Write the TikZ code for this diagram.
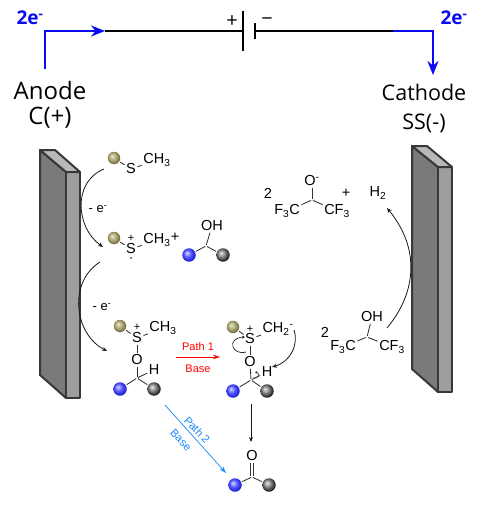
\documentclass[tikz,border=0pt]{standalone}
\usepackage{fontspec}
\setmainfont{Liberation Sans}
\newfontfamily\labelfont{Open Sans}
\usetikzlibrary{arrows.meta, positioning, calc}
\definecolor{wireblue}{RGB}{10,10,245}
\definecolor{pathblue}{RGB}{20,135,250}
\definecolor{tanlight}{RGB}{235,232,205}
\definecolor{tanmid}{RGB}{175,170,120}
\definecolor{tandark}{RGB}{120,115,75}
\definecolor{bluelight}{RGB}{215,215,255}
\definecolor{bluemid}{RGB}{85,85,255}
\definecolor{bluedark}{RGB}{35,35,215}
\definecolor{graylight}{RGB}{235,235,235}
\definecolor{graymid}{RGB}{125,125,125}
\definecolor{graydark}{RGB}{40,40,40}
\pgfdeclareradialshading{tanglobe}{\pgfpoint{-8bp}{8bp}}{color(0bp)=(tanlight); color(14bp)=(tanmid); color(25bp)=(tandark); color(50bp)=(tandark)}
\pgfdeclareradialshading{blueglobe}{\pgfpoint{-8bp}{8bp}}{color(0bp)=(bluelight); color(14bp)=(bluemid); color(25bp)=(bluedark); color(50bp)=(bluedark)}
\pgfdeclareradialshading{grayglobe}{\pgfpoint{-8bp}{8bp}}{color(0bp)=(graylight); color(14bp)=(graymid); color(25bp)=(graydark); color(50bp)=(graydark)}
\tikzset{
    atom/.style={inner sep=0.5pt, font=\fontsize{14.5}{15}\selectfont},
    tiny/.style={inner sep=0pt, font=\fontsize{11}{11}\selectfont},
    radical/.style={circle, fill=black, inner sep=0pt, minimum size=1.8pt},
    tanball/.style={circle, shading=tanglobe, minimum size=12.5pt, inner sep=0pt},
    blueball/.style={circle, shading=blueglobe, minimum size=13.5pt, inner sep=0pt},
    grayball/.style={circle, shading=grayglobe, minimum size=13.5pt, inner sep=0pt},
    bond/.style={draw=black!80, line width=0.85pt, shorten <=1pt, shorten >=1pt},
    react/.style={draw=black!90, line width=0.8pt, -{Stealth[length=5pt, width=4pt]}},
    wire/.style={line width=2.7pt},
    electrode/.style={draw=black!78, line width=2pt, line join=round},
    biglabel/.style={inner sep=0pt, font=\labelfont\fontsize{21.5}{22}\selectfont},
    elabel/.style={inner sep=0pt, text=wireblue, font=\labelfont\bfseries\fontsize{19}{20}\selectfont},
    signlabel/.style={inner sep=0pt, font=\labelfont\fontsize{20}{20}\selectfont},
    pathlabel/.style={inner sep=0pt, font=\fontsize{11}{11}\selectfont}
}
\begin{document}
\begin{tikzpicture}[x=1pt, y=-1pt]
    \useasboundingbox (0,0) rectangle (480,506);
    % circuit
    \coordinate (anodeEnd) at (45,69);
    \coordinate (anodeCorner) at (45,31);
    \coordinate (wireLeft) at (105,31);
    \coordinate (plusPlate) at (243,31);
    \coordinate (minusPlate) at (255,31);
    \coordinate (wireRight) at (393,31);
    \coordinate (cathodeCorner) at (433,31);
    \coordinate (cathodeEnd) at (433,75);
    \draw[wire, black] (wireLeft) -- (plusPlate);
    \draw[wire, black] (minusPlate) -- (wireRight);
    \draw[wire, black] ($(plusPlate)+(0,-20)$) -- ($(plusPlate)+(0,20)$);
    \draw[wire, black] ($(minusPlate)+(0,-8)$) -- ($(minusPlate)+(0,8)$);
    \draw[wire, wireblue, line join=miter, -{Stealth[length=14pt, width=11pt]}] (anodeEnd) -- (anodeCorner) -- (wireLeft);
    \draw[wire, wireblue, line join=miter, -{Stealth[length=14pt, width=11pt]}] (wireRight) -- (cathodeCorner) -- (cathodeEnd);
    \node[signlabel] (plusSign) at (232,22) {+};
    \node[signlabel] (minusSign) at (267,22) {\textminus};
    \node[elabel] (eLeft) at (30,18) {2e\textsuperscript{-}};
    \node[elabel] (eRight) at (454,18) {2e\textsuperscript{-}};
    \node[biglabel, font=\labelfont\fontsize{24}{25}\selectfont] (anode) at (50,90) {Anode};
    \node[biglabel, font=\labelfont\fontsize{24}{25}\selectfont] (anodeSign) at (50,118) {C(+)};
    \node[biglabel] (cathode) at (424,92) {Cathode};
    \node[biglabel] (cathodeSign) at (424,123) {SS(-)};
    % electrodes
    \draw[electrode, fill=black!52] (40,150) -- (66,172) -- (66,398) -- (40,375) -- cycle;
    \draw[electrode, fill=black!38] (66,172) -- (80,172) -- (80,398) -- (66,398) -- cycle;
    \draw[electrode, fill=black!28] (40,150) -- (55,150) -- (80,172) -- (66,172) -- cycle;
    \draw[electrode, fill=black!52] (412,146) -- (438,167) -- (438,392) -- (412,369) -- cycle;
    \draw[electrode, fill=black!38] (438,167) -- (452,167) -- (452,392) -- (438,392) -- cycle;
    \draw[electrode, fill=black!28] (412,146) -- (427,146) -- (452,167) -- (438,167) -- cycle;
    % thioether
    \node[tanball] (tanA) at (114,158) {};
    \node[atom] (sulfurA) at (131,169) {S};
    \node[atom] (methylA) at (157,160) {CH\textsubscript{3}};
    \draw[bond] (tanA) -- (sulfurA);
    \draw[bond] (sulfurA) -- (methylA);
    % radical cation and alcohol
    \node[tanball] (tanB) at (114,238) {};
    \node[atom] (sulfurB) at (131,249) {S};
    \node[tiny] (chargeB) at (131,238) {+};
    \node[radical] (radicalB) at (131,258) {};
    \node[atom] (methylB) at (157,240) {CH\textsubscript{3}};
    \node[atom] (plusB) at (175,237) {+};
    \draw[bond] (tanB) -- (sulfurB);
    \draw[bond] (sulfurB) -- (methylB);
    \node[atom] (hydroxyl) at (212,226) {OH};
    \coordinate (carbonB) at (206,246);
    \node[blueball] (blueB) at (189,255) {};
    \node[grayball] (grayB) at (223,255) {};
    \draw[bond] (hydroxyl) -- (carbonB);
    \draw[bond] (blueB) -- (carbonB);
    \draw[bond] (grayB) -- (carbonB);
    % alkoxysulfonium
    \node[tanball] (tanC) at (120,326) {};
    \node[atom] (sulfurC) at (137,338) {S};
    \node[tiny] (chargeC) at (137,327) {+};
    \node[atom] (methylC) at (163,328) {CH\textsubscript{3}};
    \node[atom] (oxygenC) at (137,360) {O};
    \coordinate (carbonC) at (137,378);
    \node[atom] (hydrogenC) at (154,370) {H};
    \node[blueball] (blueC) at (120,389) {};
    \node[grayball] (grayC) at (154,389) {};
    \draw[bond] (tanC) -- (sulfurC);
    \draw[bond] (sulfurC) -- (methylC);
    \draw[bond] (sulfurC) -- (oxygenC);
    \draw[bond] (oxygenC) -- (carbonC);
    \draw[bond] (hydrogenC) -- (carbonC);
    \draw[bond] (blueC) -- (carbonC);
    \draw[bond] (grayC) -- (carbonC);
    % ylide
    \node[tanball] (tanD) at (233,327) {};
    \node[atom] (sulfurD) at (250,339) {S};
    \node[tiny] (chargeD) at (250,329) {+};
    \node[atom] (methyleneD) at (278,329) {CH\textsubscript{2}\textsuperscript{-}};
    \node[atom] (oxygenD) at (250,362) {O};
    \coordinate (carbonD) at (251,380);
    \node[atom] (hydrogenD) at (267,372) {H};
    \node[blueball] (blueD) at (233,391) {};
    \node[grayball] (grayD) at (267,391) {};
    \draw[bond] (tanD) -- (sulfurD);
    \draw[bond] (sulfurD) -- (methyleneD);
    \draw[bond] (sulfurD) -- (oxygenD);
    \draw[bond] (oxygenD) -- (carbonD);
    \draw[bond] (hydrogenD) -- (carbonD);
    \draw[bond] (blueD) -- (carbonD);
    \draw[bond] (grayD) -- (carbonD);
    % ketone
    \node[atom] (oxygenE) at (252,456) {O};
    \coordinate (carbonE) at (252,477);
    \node[blueball] (blueE) at (235,485) {};
    \node[grayball] (grayE) at (269,485) {};
    \draw[bond] ($(oxygenE.south)+(-1.5,0)$) -- ($(carbonE)+(-1.5,0)$);
    \draw[bond] ($(oxygenE.south)+(1.5,0)$) -- ($(carbonE)+(1.5,0)$);
    \draw[bond] (blueE) -- (carbonE);
    \draw[bond] (grayE) -- (carbonE);
    % fluorinated alkoxide
    \node[atom] (countAlkoxide) at (268,193) {2};
    \node[atom] (oxide) at (312,181) {O\textsuperscript{-}};
    \coordinate (carbonF) at (312,200);
    \node[atom] (leftF) at (287,211) {F\textsubscript{3}C};
    \node[atom] (rightF) at (337,211) {CF\textsubscript{3}};
    \node[atom] (plusF) at (346,193) {+};
    \node[atom] (hydrogenGas) at (378,193) {H\textsubscript{2}};
    \draw[bond] (oxide) -- (carbonF);
    \draw[bond] (leftF) -- (carbonF);
    \draw[bond] (rightF) -- (carbonF);
    % fluorinated alcohol
    \node[atom] (countAlcohol) at (325,332) {2};
    \node[atom] (hydroxylG) at (372,317) {OH};
    \coordinate (carbonG) at (367,337);
    \node[atom] (leftG) at (343,347) {F\textsubscript{3}C};
    \node[atom] (rightG) at (392,347) {CF\textsubscript{3}};
    \draw[bond] (hydroxylG) -- (carbonG);
    \draw[bond] (leftG) -- (carbonG);
    \draw[bond] (rightG) -- (carbonG);
    % oxidation arcs
    \coordinate (arcOneStart) at (104,169);
    \coordinate (arcOneEnd) at (103,247);
    \coordinate (arcTwoStart) at (100,262);
    \coordinate (arcTwoEnd) at (107,351);
    \draw[react] (arcOneStart) .. controls (72,182) and (76,228) .. (arcOneEnd);
    \draw[react] (arcTwoStart) .. controls (68,282) and (74,334) .. (arcTwoEnd);
    \node[atom, font=\fontsize{13}{13}\selectfont] (lossA) at (98,209) {- e\textsuperscript{-}};
    \node[atom, font=\fontsize{13}{13}\selectfont] (lossB) at (102,307) {- e\textsuperscript{-}};
    % reduction arc
    \coordinate (arcThreeStart) at (387,328);
    \coordinate (arcThreeEnd) at (387,208);
    \draw[react] (arcThreeStart) .. controls (417,292) and (420,248) .. (arcThreeEnd);
    % paths
    \coordinate (redStart) at (176,357);
    \coordinate (redEnd) at (220,357);
    \draw[draw=red, line width=0.7pt, -{Stealth[length=7pt, width=4.5pt]}] (redStart) -- (redEnd);
    \node[pathlabel, text=red] (pathOne) at (198,347) {Path 1};
    \node[pathlabel, text=red] (baseOne) at (198,369) {Base};
    \coordinate (blueStart) at (165,405);
    \coordinate (blueEnd) at (226,473);
    \draw[draw=pathblue, line width=0.7pt, -{Stealth[length=7pt, width=4.5pt]}] (blueStart) -- (blueEnd);
    \node[pathlabel, text=pathblue, rotate=-47] (pathTwo) at (197,430) {Path 2};
    \node[pathlabel, text=pathblue, rotate=-47] (baseTwo) at (181,440) {Base};
    \coordinate (downStart) at (251,404);
    \coordinate (downEnd) at (251,442);
    \draw[react] (downStart) -- (downEnd);
    % electron pushing
    \coordinate (loopStart) at (245,337);
    \coordinate (loopEnd) at (246,352);
    \draw[draw=black!85, line width=0.7pt, -{Stealth[length=3pt, width=3pt]}] (loopEnd) .. controls (232,356) and (226,338) .. (loopStart);
    \coordinate (ylideStart) at (294,330);
    \coordinate (ylideEnd) at (272,367);
    \draw[react] (ylideStart) .. controls (299,345) and (290,362) .. (ylideEnd);
    \coordinate (hookStart) at (253,378);
    \coordinate (hookEnd) at (255,372);
    \draw[draw=black!85, line width=0.6pt, -{Stealth[length=2.5pt, width=2.5pt]}] (hookStart) .. controls (259,379) and (260,373) .. (hookEnd);
\end{tikzpicture}
\end{document}
